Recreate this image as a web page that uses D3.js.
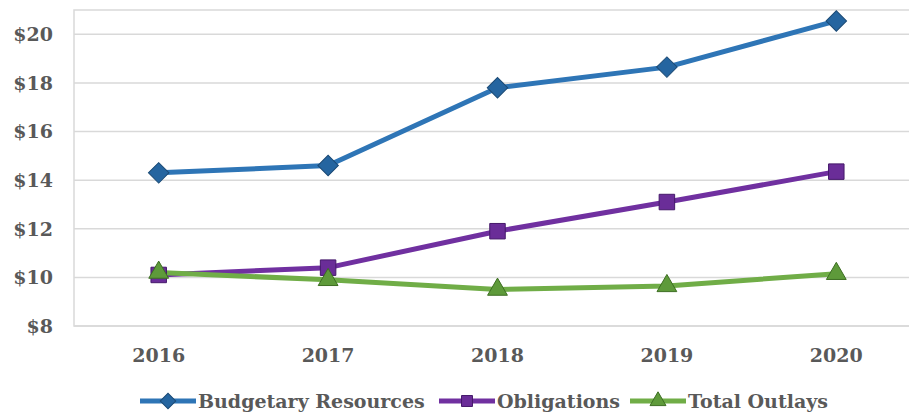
<!DOCTYPE html>
<head>
<meta charset="utf-8">
<style>
    body { margin: 0; background: #fff; }
    text { font-family: "DejaVu Serif", serif; font-weight: bold; fill: #595959; }
</style>
</head>
<body>
<script src="https://d3js.org/d3.v7.min.js"></script>
<script>

    ////////// DATA //////////
    const years = ['2016', '2017', '2018', '2019', '2020'];
    const budgetary = [14.3, 14.6, 17.8, 18.65, 20.55];
    const obligations = [10.1, 10.4, 11.9, 13.1, 14.35];
    const outlays = [10.2, 9.9, 9.5, 9.65, 10.15];
    const yTicks = [8, 10, 12, 14, 16, 18, 20];

    // diamond = square turned 45 degrees
    const series = [
        { name: 'Budgetary Resources', values: budgetary, color: '#2E75B6', mark: '#2565A0', dark: '#1B4A75', shape: d3.symbolSquare, rot: 45, size: 210, lsize: 120 },
        { name: 'Obligations', values: obligations, color: '#7030A0', mark: '#6A2D98', dark: '#45196A', shape: d3.symbolSquare, rot: 0, size: 240, lsize: 120 },
        { name: 'Total Outlays', values: outlays, color: '#70AD47', mark: '#5E9A3A', dark: '#3D6E22', shape: d3.symbolTriangle, rot: 0, size: 170, lsize: 110 }
    ];

    ////////// SETUP //////////
    const W = 909, H = 413;
    const plotL = 74, plotT = 10, plotR = 921, plotB = 326;

    const svg = d3.select('body').append('svg')
        .attr('width', W).attr('height', H);

    const x = d3.scaleBand().domain(years).range([plotL, plotR]);
    const y = d3.scaleLinear().domain([8, 21]).range([plotB, plotT]);
    const cx = d => x(d) + x.bandwidth() / 2;

    // gridlines
    svg.append('g').selectAll('line').data(yTicks).join('line')
        .attr('x1', plotL).attr('x2', plotR)
        .attr('y1', d => y(d)).attr('y2', d => y(d))
        .attr('stroke', '#d9d9d9').attr('stroke-width', 1.5);

    // frame
    svg.append('rect')
        .attr('x', plotL).attr('y', plotT)
        .attr('width', plotR - plotL).attr('height', plotB - plotT)
        .attr('fill', 'none').attr('stroke', '#d9d9d9').attr('stroke-width', 1.5);

    // y labels
    svg.append('g').selectAll('text').data(yTicks).join('text')
        .attr('x', 53).attr('y', d => y(d))
        .attr('dy', '0.36em').attr('text-anchor', 'end')
        .style('font-size', '19px')
        .text(d => '$' + d);

    // x labels
    svg.append('g').selectAll('text').data(years).join('text')
        .attr('x', d => cx(d)).attr('y', 355)
        .attr('dy', '0.36em').attr('text-anchor', 'middle')
        .style('font-size', '19px')
        .text(d => d);

    ////////// DRAW //////////
    const line = d3.line()
        .x((d, i) => cx(years[i]))
        .y(d => y(d));

    series.forEach(s => {
        svg.append('path')
            .attr('d', line(s.values))
            .attr('fill', 'none')
            .attr('stroke', s.color)
            .attr('stroke-width', 5)
            .attr('stroke-linejoin', 'round');
    });

    series.forEach(s => {
        svg.append('g').selectAll('path').data(s.values).join('path')
            .attr('transform', (d, i) => 'translate(' + cx(years[i]) + ',' + y(d) + ') rotate(' + s.rot + ')')
            .attr('d', d3.symbol().type(s.shape).size(s.size))
            .attr('fill', s.mark)
            .attr('stroke', s.dark)
            .attr('stroke-width', 1);
    });

    ////////// LEGEND //////////
    const legendX = [140, 439, 630];
    const legend = svg.append('g');
    series.forEach((s, i) => {
        const g = legend.append('g').attr('transform', 'translate(' + legendX[i] + ',401)');
        g.append('line').attr('x1', 0).attr('x2', 56)
            .attr('stroke', s.color).attr('stroke-width', 5);
        g.append('path')
            .attr('transform', 'translate(28,0) rotate(' + s.rot + ')')
            .attr('d', d3.symbol().type(s.shape).size(s.lsize))
            .attr('fill', s.mark).attr('stroke', s.dark).attr('stroke-width', 1);
        g.append('text').attr('x', 58).attr('dy', '0.36em')
            .style('font-size', '19px')
            .text(s.name);
    });

</script>
</body>
